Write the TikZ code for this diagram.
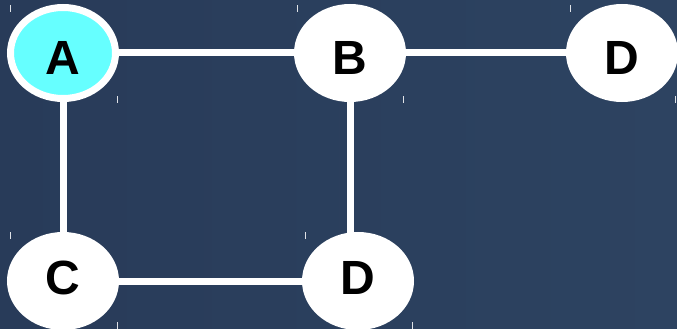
\documentclass[tikz,border=0pt]{standalone}
\usepackage{fontspec}
\setmainfont{Liberation Sans}
\usetikzlibrary{shapes.geometric,backgrounds}
\definecolor{bgleft}{RGB}{40,59,89}
\definecolor{bgright}{RGB}{45,67,97}
\definecolor{nodecyan}{RGB}{102,255,255}
\tikzset{
  vertex/.style={ellipse, draw=white, line width=7pt, fill=white, inner sep=0pt,
    minimum width=105pt, minimum height=91pt,
    font=\fontsize{48}{48}\selectfont\bfseries, text=black,
    text height=43pt, text depth=0pt},
  lowrow/.style={text height=26pt},
  hot/.style={fill=nodecyan},
  edge/.style={white, line width=7pt},
  tick/.style={white, line width=1pt, opacity=0.85}
}
\begin{document}
\begin{tikzpicture}[x=1pt,y=-1pt]
\useasboundingbox (0,0) rectangle (677,329);
\node[vertex,hot] (A) at (63,53) {A};
\node[vertex] (B) at (350,53) {B};
\node[vertex] (D1) at (622,53) {D};
\node[vertex,lowrow] (C) at (63,281) {C};
\node[vertex,lowrow] (D2) at (358,281) {D};
\begin{scope}[on background layer]
  \shade[left color=bgleft, right color=bgright] (0,0) rectangle (677,329);
  \draw[edge] (A) -- (B);
  \draw[edge] (B) -- (D1);
  \draw[edge] (A) -- (C);
  \draw[edge] (C) -- (C -| D2);
  \draw[edge] (B) -- (B |- D2);
\end{scope}
% selection corner ticks
\foreach \x/\y in {10/5, 117/96, 297/5, 403/96, 570/5, 675/96,
                   10/232, 117/322, 305/232, 412/322}
  \draw[tick] (\x,\y) -- ++(0,7);
\end{tikzpicture}
\end{document}
